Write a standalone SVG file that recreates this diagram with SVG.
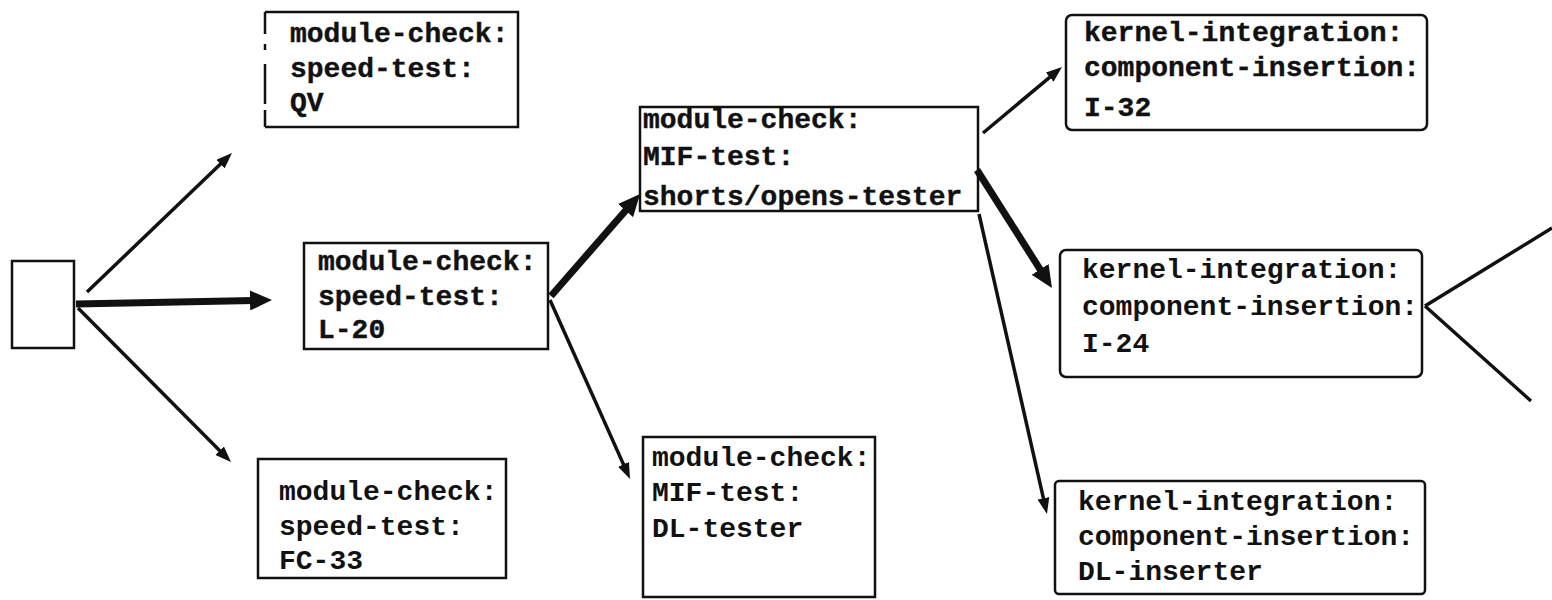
<svg xmlns="http://www.w3.org/2000/svg" width="1552" height="600" viewBox="0 0 1552 600">
<style>
.box{fill:none;stroke:#111;stroke-width:2.5}
.t{font-family:"Liberation Mono","DejaVu Sans Mono",monospace;font-size:28px;fill:#111;font-weight:bold;stroke:#111;stroke-width:0.4}
.n{stroke-width:0}
.thin{stroke:#111;stroke-width:3.5;fill:none;marker-end:url(#ah)}
.thick{stroke:#111;stroke-width:7;fill:none;marker-end:url(#ahk)}
.line{stroke:#111;stroke-width:3.5;fill:none}
</style>
<defs>
<marker id="ah" markerUnits="userSpaceOnUse" markerWidth="16" markerHeight="12" refX="3" refY="6" orient="auto">
<path d="M0,0 L16,6 L0,12 z" fill="#111"/>
</marker>
<marker id="ahk" markerUnits="userSpaceOnUse" markerWidth="22" markerHeight="20" refX="4" refY="10" orient="auto">
<path d="M0,0 L22,10 L0,20 z" fill="#111"/>
</marker>
</defs>
<rect width="1552" height="600" fill="#fff"/>

<g id="connectors">
<line class="thin" x1="87" y1="292" x2="222.6" y2="162"/>
<line class="thick" x1="76" y1="304" x2="254" y2="300.4"/>
<line class="thin" x1="78" y1="308" x2="221.8" y2="452.8"/>
<line class="thick" x1="551" y1="296" x2="628.2" y2="207.6"/>
<line class="thin" x1="550" y1="300" x2="624.7" y2="467.1"/>
<line class="thin" x1="983" y1="133" x2="1052" y2="75.3"/>
<line class="thick" x1="977" y1="170" x2="1042.3" y2="272.8"/>
<line class="thin" x1="979" y1="214" x2="1044.1" y2="501.3"/>
<line class="line" x1="1425" y1="306" x2="1552" y2="228"/>
<line class="line" x1="1425" y1="306" x2="1531" y2="401"/>
</g>

<g id="start">
<rect class="box" x="12" y="261" width="62" height="87"/>
</g>

<g id="qv">
<path class="box" d="M265,12 H518 V127 H265"/>
<path class="box" d="M265,12 V127" stroke-dasharray="22,10,6,14,40,6,30"/>
<text class="t" x="290" y="42">module-check:</text>
<text class="t" x="290" y="77">speed-test:</text>
<text class="t" x="290" y="111">QV</text>
</g>

<g id="l20">
<rect class="box" x="304" y="243" width="244" height="106"/>
<text class="t" x="318" y="270">module-check:</text>
<text class="t" x="318" y="305">speed-test:</text>
<text class="t" x="318" y="338">L-20</text>
</g>

<g id="fc33">
<rect class="box" x="258" y="459" width="248" height="119"/>
<text class="t n" x="279" y="500">module-check:</text>
<text class="t n" x="279" y="535">speed-test:</text>
<text class="t n" x="279" y="569">FC-33</text>
</g>

<g id="shorts">
<rect class="box" x="640" y="107" width="338" height="104"/>
<text class="t" x="643" y="128">module-check:</text>
<text class="t" x="643" y="165">MIF-test:</text>
<text class="t" x="643" y="205">shorts/opens-tester</text>
</g>

<g id="dltester">
<rect class="box" x="643" y="437" width="232" height="160"/>
<text class="t n" x="652" y="466">module-check:</text>
<text class="t n" x="652" y="501">MIF-test:</text>
<text class="t n" x="652" y="537">DL-tester</text>
</g>

<g id="i32">
<rect class="box" x="1066" y="15" width="361" height="115" rx="6"/>
<text class="t" x="1084" y="41">kernel-integration:</text>
<text class="t" x="1084" y="76">component-insertion:</text>
<text class="t" x="1084" y="116">I-32</text>
</g>

<g id="i24">
<rect class="box" x="1060" y="250" width="362" height="127" rx="6"/>
<text class="t n" x="1082" y="278">kernel-integration:</text>
<text class="t n" x="1082" y="315">component-insertion:</text>
<text class="t n" x="1082" y="352">I-24</text>
</g>

<g id="dlinserter">
<rect class="box" x="1055" y="481" width="370" height="113" rx="4"/>
<text class="t n" x="1078" y="510">kernel-integration:</text>
<text class="t n" x="1078" y="545">component-insertion:</text>
<text class="t n" x="1078" y="580">DL-inserter</text>
</g>
</svg>
